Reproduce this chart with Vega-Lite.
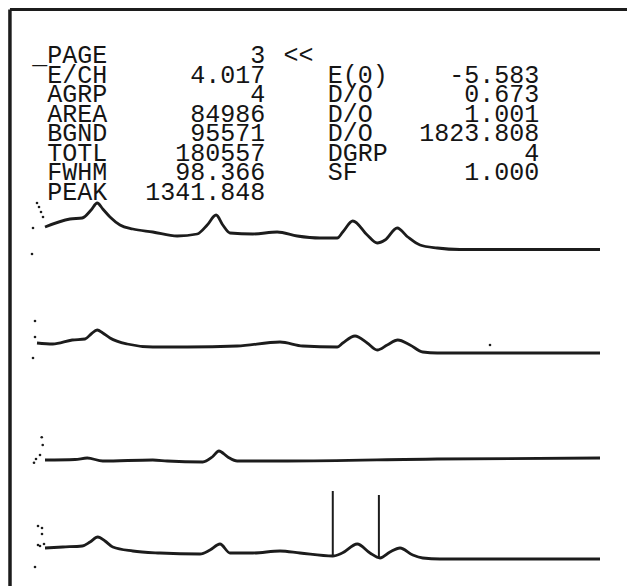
{
  "$schema": "https://vega.github.io/schema/vega-lite/v6.json",
  "padding": 0,
  "spacing": 0,
  "bounds": "flush",
  "background": "white",
  "config": {"view": {"stroke": null}, "concat": {"spacing": 0}},
  "resolve": {"scale": {"x": "independent", "y": "independent"}},
  "datasets": {
    "txt": [
      {"side": "L", "row": 0, "label": "_PAGE", "value": "3", "flag": "<<"},
      {"side": "L", "row": 1, "label": "E/CH", "value": "4.017"},
      {"side": "L", "row": 2, "label": "AGRP", "value": "4"},
      {"side": "L", "row": 3, "label": "AREA", "value": "84986"},
      {"side": "L", "row": 4, "label": "BGND", "value": "95571"},
      {"side": "L", "row": 5, "label": "TOTL", "value": "180557"},
      {"side": "L", "row": 6, "label": "FWHM", "value": "98.366"},
      {"side": "L", "row": 7, "label": "PEAK", "value": "1341.848"},
      {"side": "R", "row": 1, "label": "E(0)", "value": "-5.583"},
      {"side": "R", "row": 2, "label": "D/O", "value": "0.673"},
      {"side": "R", "row": 3, "label": "D/O", "value": "1.001"},
      {"side": "R", "row": 4, "label": "D/O", "value": "1823.808"},
      {"side": "R", "row": 5, "label": "DGRP", "value": "4"},
      {"side": "R", "row": 6, "label": "SF", "value": "1.000"}
    ],
    "spec": [
      {"t": 1, "k": "dot", "ch": -5.4, "counts": 570},
      {"t": 1, "k": "dot", "ch": -1.8, "counts": 530},
      {"t": 1, "k": "dot", "ch": 1.8, "counts": 480},
      {"t": 1, "k": "dot", "ch": 5.4, "counts": 430},
      {"t": 1, "k": "dot", "ch": -12.6, "counts": 320},
      {"t": 1, "k": "dot", "ch": -14.4, "counts": 60},
      {"t": 1, "k": "line", "ch": 9, "counts": 330},
      {"t": 1, "k": "line", "ch": 54, "counts": 410},
      {"t": 1, "k": "line", "ch": 76, "counts": 420},
      {"t": 1, "k": "line", "ch": 92, "counts": 500},
      {"t": 1, "k": "line", "ch": 103, "counts": 570},
      {"t": 1, "k": "line", "ch": 113, "counts": 510},
      {"t": 1, "k": "line", "ch": 126, "counts": 430},
      {"t": 1, "k": "line", "ch": 144, "counts": 350},
      {"t": 1, "k": "line", "ch": 167, "counts": 310},
      {"t": 1, "k": "line", "ch": 203, "counts": 280},
      {"t": 1, "k": "line", "ch": 247, "counts": 240},
      {"t": 1, "k": "line", "ch": 283, "counts": 260},
      {"t": 1, "k": "line", "ch": 301, "counts": 350},
      {"t": 1, "k": "line", "ch": 317, "counts": 450},
      {"t": 1, "k": "line", "ch": 329, "counts": 350},
      {"t": 1, "k": "line", "ch": 342, "counts": 270},
      {"t": 1, "k": "line", "ch": 383, "counts": 260},
      {"t": 1, "k": "line", "ch": 427, "counts": 280},
      {"t": 1, "k": "line", "ch": 463, "counts": 240},
      {"t": 1, "k": "line", "ch": 504, "counts": 220},
      {"t": 1, "k": "line", "ch": 535, "counts": 220},
      {"t": 1, "k": "line", "ch": 545, "counts": 280},
      {"t": 1, "k": "line", "ch": 563, "counts": 390},
      {"t": 1, "k": "line", "ch": 589, "counts": 250},
      {"t": 1, "k": "line", "ch": 607, "counts": 170},
      {"t": 1, "k": "line", "ch": 621, "counts": 200},
      {"t": 1, "k": "line", "ch": 643, "counts": 320},
      {"t": 1, "k": "line", "ch": 662, "counts": 230},
      {"t": 1, "k": "line", "ch": 684, "counts": 150},
      {"t": 1, "k": "line", "ch": 715, "counts": 120},
      {"t": 1, "k": "line", "ch": 756, "counts": 105},
      {"t": 1, "k": "line", "ch": 1008, "counts": 105},
      {"t": 2, "k": "dot", "ch": -9, "counts": 420},
      {"t": 2, "k": "dot", "ch": -9, "counts": 260},
      {"t": 2, "k": "dot", "ch": -12.6, "counts": 50},
      {"t": 2, "k": "dot", "ch": 810, "counts": 180},
      {"t": 2, "k": "line", "ch": -5.4, "counts": 200},
      {"t": 2, "k": "line", "ch": 23, "counts": 190},
      {"t": 2, "k": "line", "ch": 58, "counts": 230},
      {"t": 2, "k": "line", "ch": 81, "counts": 240},
      {"t": 2, "k": "line", "ch": 92, "counts": 290},
      {"t": 2, "k": "line", "ch": 103, "counts": 330},
      {"t": 2, "k": "line", "ch": 113, "counts": 300},
      {"t": 2, "k": "line", "ch": 126, "counts": 250},
      {"t": 2, "k": "line", "ch": 157, "counts": 190},
      {"t": 2, "k": "line", "ch": 203, "counts": 160},
      {"t": 2, "k": "line", "ch": 265, "counts": 160},
      {"t": 2, "k": "line", "ch": 355, "counts": 170},
      {"t": 2, "k": "line", "ch": 432, "counts": 210},
      {"t": 2, "k": "line", "ch": 473, "counts": 170},
      {"t": 2, "k": "line", "ch": 535, "counts": 160},
      {"t": 2, "k": "line", "ch": 545, "counts": 200},
      {"t": 2, "k": "line", "ch": 567, "counts": 270},
      {"t": 2, "k": "line", "ch": 589, "counts": 200},
      {"t": 2, "k": "line", "ch": 607, "counts": 130},
      {"t": 2, "k": "line", "ch": 625, "counts": 180},
      {"t": 2, "k": "line", "ch": 644, "counts": 230},
      {"t": 2, "k": "line", "ch": 666, "counts": 180},
      {"t": 2, "k": "line", "ch": 689, "counts": 110},
      {"t": 2, "k": "line", "ch": 715, "counts": 100},
      {"t": 2, "k": "line", "ch": 1008, "counts": 100},
      {"t": 3, "k": "dot", "ch": 3.1, "counts": 317},
      {"t": 3, "k": "dot", "ch": 4.9, "counts": 240},
      {"t": 3, "k": "dot", "ch": 0, "counts": 140},
      {"t": 3, "k": "dot", "ch": -7.2, "counts": 100},
      {"t": 3, "k": "dot", "ch": -10.8, "counts": 63},
      {"t": 3, "k": "line", "ch": 9, "counts": 90},
      {"t": 3, "k": "line", "ch": 63, "counts": 95},
      {"t": 3, "k": "line", "ch": 85, "counts": 110},
      {"t": 3, "k": "line", "ch": 113, "counts": 80},
      {"t": 3, "k": "line", "ch": 203, "counts": 90},
      {"t": 3, "k": "line", "ch": 229, "counts": 80},
      {"t": 3, "k": "line", "ch": 293, "counts": 70},
      {"t": 3, "k": "line", "ch": 310, "counts": 120},
      {"t": 3, "k": "line", "ch": 322, "counts": 180},
      {"t": 3, "k": "line", "ch": 338, "counts": 120},
      {"t": 3, "k": "line", "ch": 355, "counts": 80},
      {"t": 3, "k": "line", "ch": 445, "counts": 80},
      {"t": 3, "k": "line", "ch": 715, "counts": 100},
      {"t": 3, "k": "line", "ch": 1008, "counts": 110},
      {"t": 4, "k": "dot", "ch": -3.6, "counts": 430},
      {"t": 4, "k": "dot", "ch": 3.6, "counts": 410},
      {"t": 4, "k": "dot", "ch": 3.6, "counts": 350},
      {"t": 4, "k": "dot", "ch": -3.6, "counts": 240},
      {"t": 4, "k": "dot", "ch": 0, "counts": 230},
      {"t": 4, "k": "dot", "ch": 7.2, "counts": 250},
      {"t": 4, "k": "dot", "ch": -9, "counts": 20},
      {"t": 4, "k": "line", "ch": 9, "counts": 210},
      {"t": 4, "k": "line", "ch": 41, "counts": 220},
      {"t": 4, "k": "line", "ch": 76, "counts": 230},
      {"t": 4, "k": "line", "ch": 90, "counts": 270},
      {"t": 4, "k": "line", "ch": 104, "counts": 320},
      {"t": 4, "k": "line", "ch": 117, "counts": 280},
      {"t": 4, "k": "line", "ch": 131, "counts": 220},
      {"t": 4, "k": "line", "ch": 167, "counts": 180},
      {"t": 4, "k": "line", "ch": 216, "counts": 160},
      {"t": 4, "k": "line", "ch": 288, "counts": 150},
      {"t": 4, "k": "line", "ch": 306, "counts": 190},
      {"t": 4, "k": "line", "ch": 324, "counts": 250},
      {"t": 4, "k": "line", "ch": 342, "counts": 160},
      {"t": 4, "k": "line", "ch": 383, "counts": 160},
      {"t": 4, "k": "line", "ch": 432, "counts": 180},
      {"t": 4, "k": "line", "ch": 468, "counts": 160},
      {"t": 4, "k": "line", "ch": 527, "counts": 130},
      {"t": 4, "k": "line", "ch": 544, "counts": 160},
      {"t": 4, "k": "line", "ch": 571, "counts": 250},
      {"t": 4, "k": "line", "ch": 594, "counts": 160},
      {"t": 4, "k": "line", "ch": 612, "counts": 110},
      {"t": 4, "k": "line", "ch": 630, "counts": 170},
      {"t": 4, "k": "line", "ch": 648, "counts": 210},
      {"t": 4, "k": "line", "ch": 671, "counts": 140},
      {"t": 4, "k": "line", "ch": 689, "counts": 110},
      {"t": 4, "k": "line", "ch": 720, "counts": 100},
      {"t": 4, "k": "line", "ch": 1008, "counts": 100},
      {"t": 4, "k": "roi", "ch": 527, "counts": 780, "low": 130},
      {"t": 4, "k": "roi", "ch": 610, "counts": 740, "low": 110}
    ]
  },
  "vconcat": [
    {
      "width": 627,
      "height": 190,
      "data": {"name": "txt"},
      "layer": [
        {
          "transform": [{"filter": "datum.side == 'L'"}],
          "mark": {"type": "text", "align": "right", "baseline": "alphabetic", "font": "Liberation Mono", "fontSize": 25, "color": "#151515"},
          "encoding": {
            "x": {"datum": 7, "type": "quantitative", "scale": {"domain": [-0.297, 42.365], "nice": false, "zero": false}, "axis": null},
            "y": {"field": "row", "type": "quantitative", "scale": {"domain": [-3.2308, 6.5128], "reverse": true, "nice": false, "zero": false}, "axis": null},
            "text": {"field": "label"}
          }
        },
        {
          "transform": [{"filter": "datum.side == 'L'"}],
          "mark": {"type": "text", "align": "right", "baseline": "alphabetic", "font": "Liberation Mono", "fontSize": 25, "color": "#151515"},
          "encoding": {
            "x": {"datum": 17.75, "type": "quantitative", "axis": null},
            "y": {"field": "row", "type": "quantitative", "axis": null},
            "text": {"field": "value"}
          }
        },
        {
          "transform": [{"filter": "datum.flag != null"}],
          "mark": {"type": "text", "align": "left", "baseline": "alphabetic", "font": "Liberation Mono", "fontSize": 25, "color": "#151515"},
          "encoding": {
            "x": {"datum": 19, "type": "quantitative", "axis": null},
            "y": {"field": "row", "type": "quantitative", "axis": null},
            "text": {"field": "flag"}
          }
        },
        {
          "transform": [{"filter": "datum.side == 'R'"}],
          "mark": {"type": "text", "align": "left", "baseline": "alphabetic", "font": "Liberation Mono", "fontSize": 25, "color": "#151515"},
          "encoding": {
            "x": {"datum": 22, "type": "quantitative", "axis": null},
            "y": {"field": "row", "type": "quantitative", "axis": null},
            "text": {"field": "label"}
          }
        },
        {
          "transform": [{"filter": "datum.side == 'R'"}],
          "mark": {"type": "text", "align": "right", "baseline": "alphabetic", "font": "Liberation Mono", "fontSize": 25, "color": "#151515"},
          "encoding": {
            "x": {"datum": 36.39, "type": "quantitative", "axis": null},
            "y": {"field": "row", "type": "quantitative", "axis": null},
            "text": {"field": "value"}
          }
        },
        {
          "data": {"values": [{}]},
          "mark": {"type": "rule", "color": "#1c1c1c", "strokeWidth": 3},
          "encoding": {
            "x": {"datum": 0.379, "type": "quantitative", "axis": null},
            "x2": {"datum": 42.365},
            "y": {"datum": -2.7436, "type": "quantitative", "axis": null}
          }
        },
        {
          "data": {"values": [{}]},
          "mark": {"type": "rule", "color": "#1c1c1c", "strokeWidth": 3.5},
          "encoding": {
            "x": {"datum": 0.379, "type": "quantitative", "axis": null},
            "y": {"datum": -2.7436, "type": "quantitative", "axis": null},
            "y2": {"datum": 6.5128}
          }
        }
      ]
    },
    {
      "width": 627,
      "height": 100,
      "data": {"name": "spec"},
      "transform": [{"filter": "datum.t == 1"}],
      "layer": [
        {
          "transform": [{"filter": "datum.k == 'line'"}],
          "mark": {"type": "line", "interpolate": "monotone", "color": "#1c1c1c", "strokeWidth": 2.8},
          "encoding": {
            "x": {"field": "ch", "type": "quantitative", "scale": {"domain": [-72, 1056.6], "nice": false, "zero": false}, "axis": null},
            "y": {"field": "counts", "type": "quantitative", "scale": {"domain": [-300, 700], "nice": false, "zero": false}, "axis": null}
          }
        },
        {
          "transform": [{"filter": "datum.k == 'dot'"}],
          "mark": {"type": "circle", "size": 7, "color": "#1c1c1c", "opacity": 1},
          "encoding": {
            "x": {"field": "ch", "type": "quantitative", "axis": null},
            "y": {"field": "counts", "type": "quantitative", "axis": null}
          }
        },
        {
          "data": {"values": [{}]},
          "mark": {"type": "rule", "color": "#1c1c1c", "strokeWidth": 3.5},
          "encoding": {"x": {"datum": -54, "type": "quantitative", "axis": null}}
        }
      ]
    },
    {
      "width": 627,
      "height": 105,
      "data": {"name": "spec"},
      "transform": [{"filter": "datum.t == 2"}],
      "layer": [
        {
          "transform": [{"filter": "datum.k == 'line'"}],
          "mark": {"type": "line", "interpolate": "monotone", "color": "#1c1c1c", "strokeWidth": 2.8},
          "encoding": {
            "x": {"field": "ch", "type": "quantitative", "scale": {"domain": [-72, 1056.6], "nice": false, "zero": false}, "axis": null},
            "y": {"field": "counts", "type": "quantitative", "scale": {"domain": [-320, 730], "nice": false, "zero": false}, "axis": null}
          }
        },
        {
          "transform": [{"filter": "datum.k == 'dot'"}],
          "mark": {"type": "circle", "size": 7, "color": "#1c1c1c", "opacity": 1},
          "encoding": {
            "x": {"field": "ch", "type": "quantitative", "axis": null},
            "y": {"field": "counts", "type": "quantitative", "axis": null}
          }
        },
        {
          "data": {"values": [{}]},
          "mark": {"type": "rule", "color": "#1c1c1c", "strokeWidth": 3.5},
          "encoding": {"x": {"datum": -54, "type": "quantitative", "axis": null}}
        }
      ]
    },
    {
      "width": 627,
      "height": 90,
      "data": {"name": "spec"},
      "transform": [{"filter": "datum.t == 3"}],
      "layer": [
        {
          "transform": [{"filter": "datum.k == 'line'"}],
          "mark": {"type": "line", "interpolate": "monotone", "color": "#1c1c1c", "strokeWidth": 2.8},
          "encoding": {
            "x": {"field": "ch", "type": "quantitative", "scale": {"domain": [-72, 1056.6], "nice": false, "zero": false}, "axis": null},
            "y": {"field": "counts", "type": "quantitative", "scale": {"domain": [-160, 740], "nice": false, "zero": false}, "axis": null}
          }
        },
        {
          "transform": [{"filter": "datum.k == 'dot'"}],
          "mark": {"type": "circle", "size": 7, "color": "#1c1c1c", "opacity": 1},
          "encoding": {
            "x": {"field": "ch", "type": "quantitative", "axis": null},
            "y": {"field": "counts", "type": "quantitative", "axis": null}
          }
        },
        {
          "data": {"values": [{}]},
          "mark": {"type": "rule", "color": "#1c1c1c", "strokeWidth": 3.5},
          "encoding": {"x": {"datum": -54, "type": "quantitative", "axis": null}}
        }
      ]
    },
    {
      "width": 627,
      "height": 101,
      "data": {"name": "spec"},
      "transform": [{"filter": "datum.t == 4"}],
      "layer": [
        {
          "transform": [{"filter": "datum.k == 'line'"}],
          "mark": {"type": "line", "interpolate": "monotone", "color": "#1c1c1c", "strokeWidth": 2.8},
          "encoding": {
            "x": {"field": "ch", "type": "quantitative", "scale": {"domain": [-72, 1056.6], "nice": false, "zero": false}, "axis": null},
            "y": {"field": "counts", "type": "quantitative", "scale": {"domain": [-170, 840], "nice": false, "zero": false}, "axis": null}
          }
        },
        {
          "transform": [{"filter": "datum.k == 'dot'"}],
          "mark": {"type": "circle", "size": 7, "color": "#1c1c1c", "opacity": 1},
          "encoding": {
            "x": {"field": "ch", "type": "quantitative", "axis": null},
            "y": {"field": "counts", "type": "quantitative", "axis": null}
          }
        },
        {
          "transform": [{"filter": "datum.k == 'roi'"}],
          "mark": {"type": "rule", "color": "#1c1c1c", "strokeWidth": 2},
          "encoding": {
            "x": {"field": "ch", "type": "quantitative", "axis": null},
            "y": {"field": "counts", "type": "quantitative", "axis": null},
            "y2": {"field": "low"}
          }
        },
        {
          "data": {"values": [{}]},
          "mark": {"type": "rule", "color": "#1c1c1c", "strokeWidth": 3.5},
          "encoding": {"x": {"datum": -54, "type": "quantitative", "axis": null}}
        }
      ]
    }
  ]
}
